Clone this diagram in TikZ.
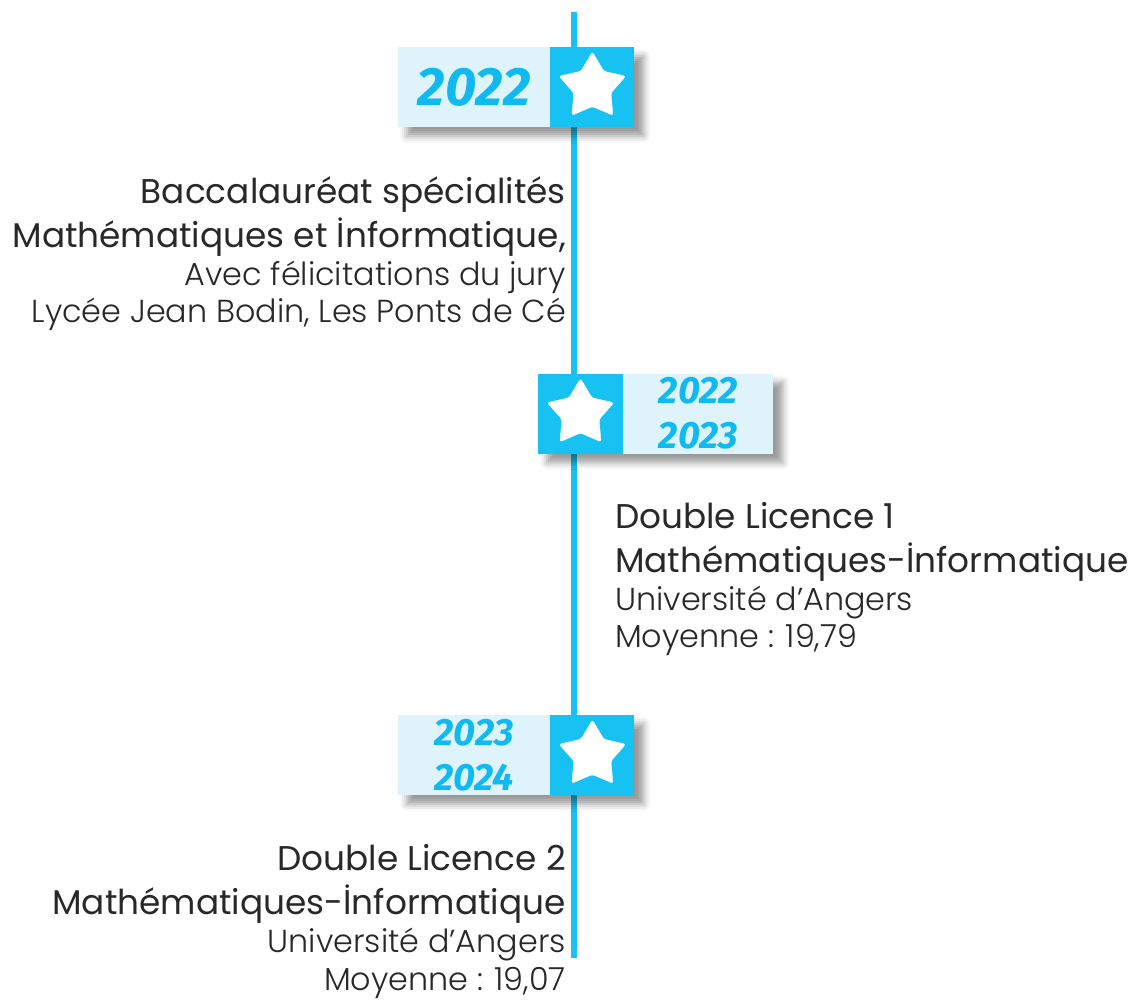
\documentclass[tikz,border=0pt]{standalone}
\usepackage{fontspec}
\setmainfont{Poppins}
\newfontfamily\lightfont{Poppins Light}
\newfontfamily\yearfont{Fira Sans}
\usetikzlibrary{positioning,shapes.geometric,shadows.blur,backgrounds}
\definecolor{tlcyan}{RGB}{23,193,241}
\definecolor{tllight}{RGB}{223,243,251}
\definecolor{tltext}{RGB}{40,40,40}
\definecolor{tlyear}{RGB}{16,186,240}
\tikzset{
    yearbox/.style={fill=tllight, minimum width=152pt, minimum height=80pt, inner sep=0pt,
        text=tlyear, align=center, font=\yearfont\bfseries\itshape\fontsize{38}{45}\selectfont},
    starbox/.style={fill=tlcyan, minimum width=84pt, minimum height=80pt, inner sep=0pt},
    starmark/.style={star, star points=5, star point ratio=1.8, fill=white, draw=white,
        minimum size=70pt, inner sep=0pt, rounded corners=2.5pt},
    boxshadow/.style={blur shadow={shadow xshift=9pt, shadow yshift=-9pt,
        shadow blur radius=7pt, shadow opacity=40}},
    bigline/.style={inner sep=0pt, text=tltext, font=\fontsize{34.3}{34.3}\selectfont},
    smallline/.style={inner sep=0pt, text=tltext, font=\lightfont\fontsize{31.8}{31.8}\selectfont},
}
\begin{document}
\begin{tikzpicture}[x=1pt, y=-1pt]
    \useasboundingbox (0,0) rectangle (1132,999);
    \coordinate (top) at (574,12);
    \coordinate (bottom) at (574,958);

    \node[yearbox, font=\yearfont\bfseries\itshape\fontsize{54}{54}\selectfont] (y1) at (474,87) {2022};
    \node[starbox, right=0pt of y1] (s1) {};
    \node[starmark] (st1) at (s1) {};

    \node[starbox, minimum width=85pt] (s2) at (580.5,413.5) {};
    \node[yearbox, minimum width=150pt, right=0pt of s2] (y2) {2022\\2023};
    \node[starmark] (st2) at (s2) {};

    \node[yearbox] (y3) at (474,755) {2023\\2024};
    \node[starbox, right=0pt of y3] (s3) {};
    \node[starmark] (st3) at (s3) {};

    \begin{scope}[on background layer]
        \draw[line width=6pt, tlcyan] (top) -- (bottom);
        \path[boxshadow] (y1.north west) rectangle (s1.south east);
        \path[boxshadow] (s2.north west) rectangle (y2.south east);
        \path[boxshadow] (y3.north west) rectangle (s3.south east);
    \end{scope}

    \node[bigline, anchor=base east] (bacTitle) at (566,203) {Baccalauréat spécialités};
    \node[bigline, anchor=base east] (bacSpec) at (566,247) {Mathématiques et İnformatique,};
    \node[smallline, anchor=base east] (bacMention) at (566,285) {Avec félicitations du jury};
    \node[smallline, anchor=base east] (bacLycee) at (566,322) {Lycée Jean Bodin, Les Ponts de Cé};

    \node[bigline, anchor=base west] (lOneTitle) at (615,528) {Double Licence 1};
    \node[bigline, anchor=base west] (lOneSpec) at (615,572) {Mathématiques-İnformatique};
    \node[smallline, anchor=base west] (lOneUniv) at (615,610) {Université d’Angers};
    \node[smallline, anchor=base west] (lOneMoy) at (615,647) {Moyenne : 19,79};

    \node[bigline, anchor=base east] (lTwoTitle) at (566,870) {Double Licence 2};
    \node[bigline, anchor=base east] (lTwoSpec) at (566,914) {Mathématiques-İnformatique};
    \node[smallline, anchor=base east] (lTwoUniv) at (566,952) {Université d’Angers};
    \node[smallline, anchor=base east] (lTwoMoy) at (566,990) {Moyenne : 19,07};
\end{tikzpicture}
\end{document}
